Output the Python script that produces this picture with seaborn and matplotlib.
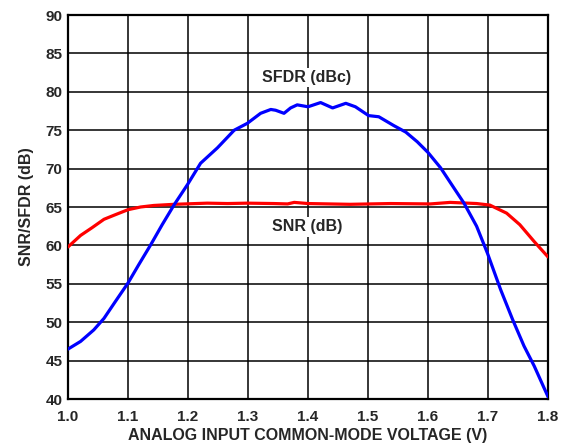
import matplotlib
matplotlib.use("Agg")
import matplotlib.pyplot as plt
import seaborn as sns
import pandas as pd

# SFDR (dBc) curve
sfdr_x = [1.000, 1.021, 1.043, 1.060, 1.079, 1.100, 1.118, 1.138, 1.157, 1.177,
          1.199, 1.221, 1.249, 1.277, 1.299, 1.321, 1.338, 1.346, 1.360, 1.371,
          1.382, 1.400, 1.421, 1.441, 1.463, 1.479, 1.501, 1.518, 1.543, 1.563,
          1.582, 1.600, 1.621, 1.643, 1.660, 1.681, 1.699, 1.721, 1.741, 1.760,
          1.777, 1.800]
sfdr_y = [46.5, 47.5, 49.0, 50.5, 52.7, 55.1, 57.5, 60.1, 62.7, 65.3,
          67.9, 70.7, 72.7, 75.0, 75.9, 77.2, 77.7, 77.6, 77.2, 77.9,
          78.3, 78.05, 78.6, 77.9, 78.5, 78.05, 76.9, 76.75, 75.6, 74.75,
          73.5, 72.1, 70.1, 67.5, 65.5, 62.5, 59.0, 54.25, 50.35, 46.9,
          44.3, 40.3]

# SNR (dB) curve
snr_x = [1.000, 1.021, 1.040, 1.060, 1.079, 1.100, 1.121, 1.143, 1.177, 1.232,
         1.266, 1.299, 1.343, 1.366, 1.377, 1.400, 1.470, 1.538, 1.604, 1.637,
         1.681, 1.703, 1.731, 1.753, 1.777, 1.800]
snr_y = [59.8, 61.3, 62.3, 63.4, 64.0, 64.65, 65.0, 65.2, 65.35, 65.5,
         65.45, 65.5, 65.45, 65.4, 65.6, 65.45, 65.35, 65.45, 65.4, 65.6,
         65.45, 65.25, 64.2, 62.7, 60.5, 58.5]

x_ticks = [1.0, 1.1, 1.2, 1.3, 1.4, 1.5, 1.6, 1.7, 1.8]
y_ticks = [40, 45, 50, 55, 60, 65, 70, 75, 80, 85, 90]

sns.set_style("white")
plt.rcParams['font.family'] = ['Liberation Sans', 'DejaVu Sans']
plt.rcParams['font.weight'] = 'bold'

df = pd.concat([
    pd.DataFrame({"v": snr_x, "db": snr_y, "series": "SNR"}),
    pd.DataFrame({"v": sfdr_x, "db": sfdr_y, "series": "SFDR"}),
], ignore_index=True)

fig = plt.figure(figsize=(5.66, 4.46), dpi=100)
ax = fig.add_axes([68/566, 1 - 399/446, 480/566, 384/446])

sns.lineplot(data=df, x="v", y="db", hue="series", estimator=None, sort=False,
             palette={"SNR": "#ff0000", "SFDR": "#0000ff"}, linewidth=2.3,
             legend=False, ax=ax, zorder=3)

ax.set_xlim(1.0, 1.8)
ax.set_ylim(40, 90)
ax.set_xticks(x_ticks)
ax.set_yticks(y_ticks)
ax.set_xticklabels([f"{t:.1f}" for t in x_ticks], fontsize=11, fontweight='bold')
ax.set_yticklabels([str(t) for t in y_ticks], fontsize=11, fontweight='bold')
ax.tick_params(axis='x', length=0, pad=8)
ax.tick_params(axis='y', length=0, pad=4)
ax.grid(True, color='black', linewidth=1.1)
ax.set_axisbelow(True)
for s in ax.spines.values():
    s.set_color('black')
    s.set_linewidth(1.6)

ax.set_xlabel("ANALOG INPUT COMMON-MODE VOLTAGE (V)", fontsize=11.5, fontweight='bold', labelpad=3)
ax.set_ylabel("SNR/SFDR (dB)", fontsize=11.5, fontweight='bold', labelpad=8)

bbox = dict(facecolor='white', edgecolor='none', pad=1.5)
ax.text(1.398, 81.9, "SFDR (dBc)", ha='center', va='center', fontsize=11.5,
        fontweight='bold', bbox=bbox, zorder=4)
ax.text(1.399, 62.4, "SNR (dB)", ha='center', va='center', fontsize=11.5,
        fontweight='bold', bbox=bbox, zorder=4)

fig.savefig("out.png", dpi=100)
